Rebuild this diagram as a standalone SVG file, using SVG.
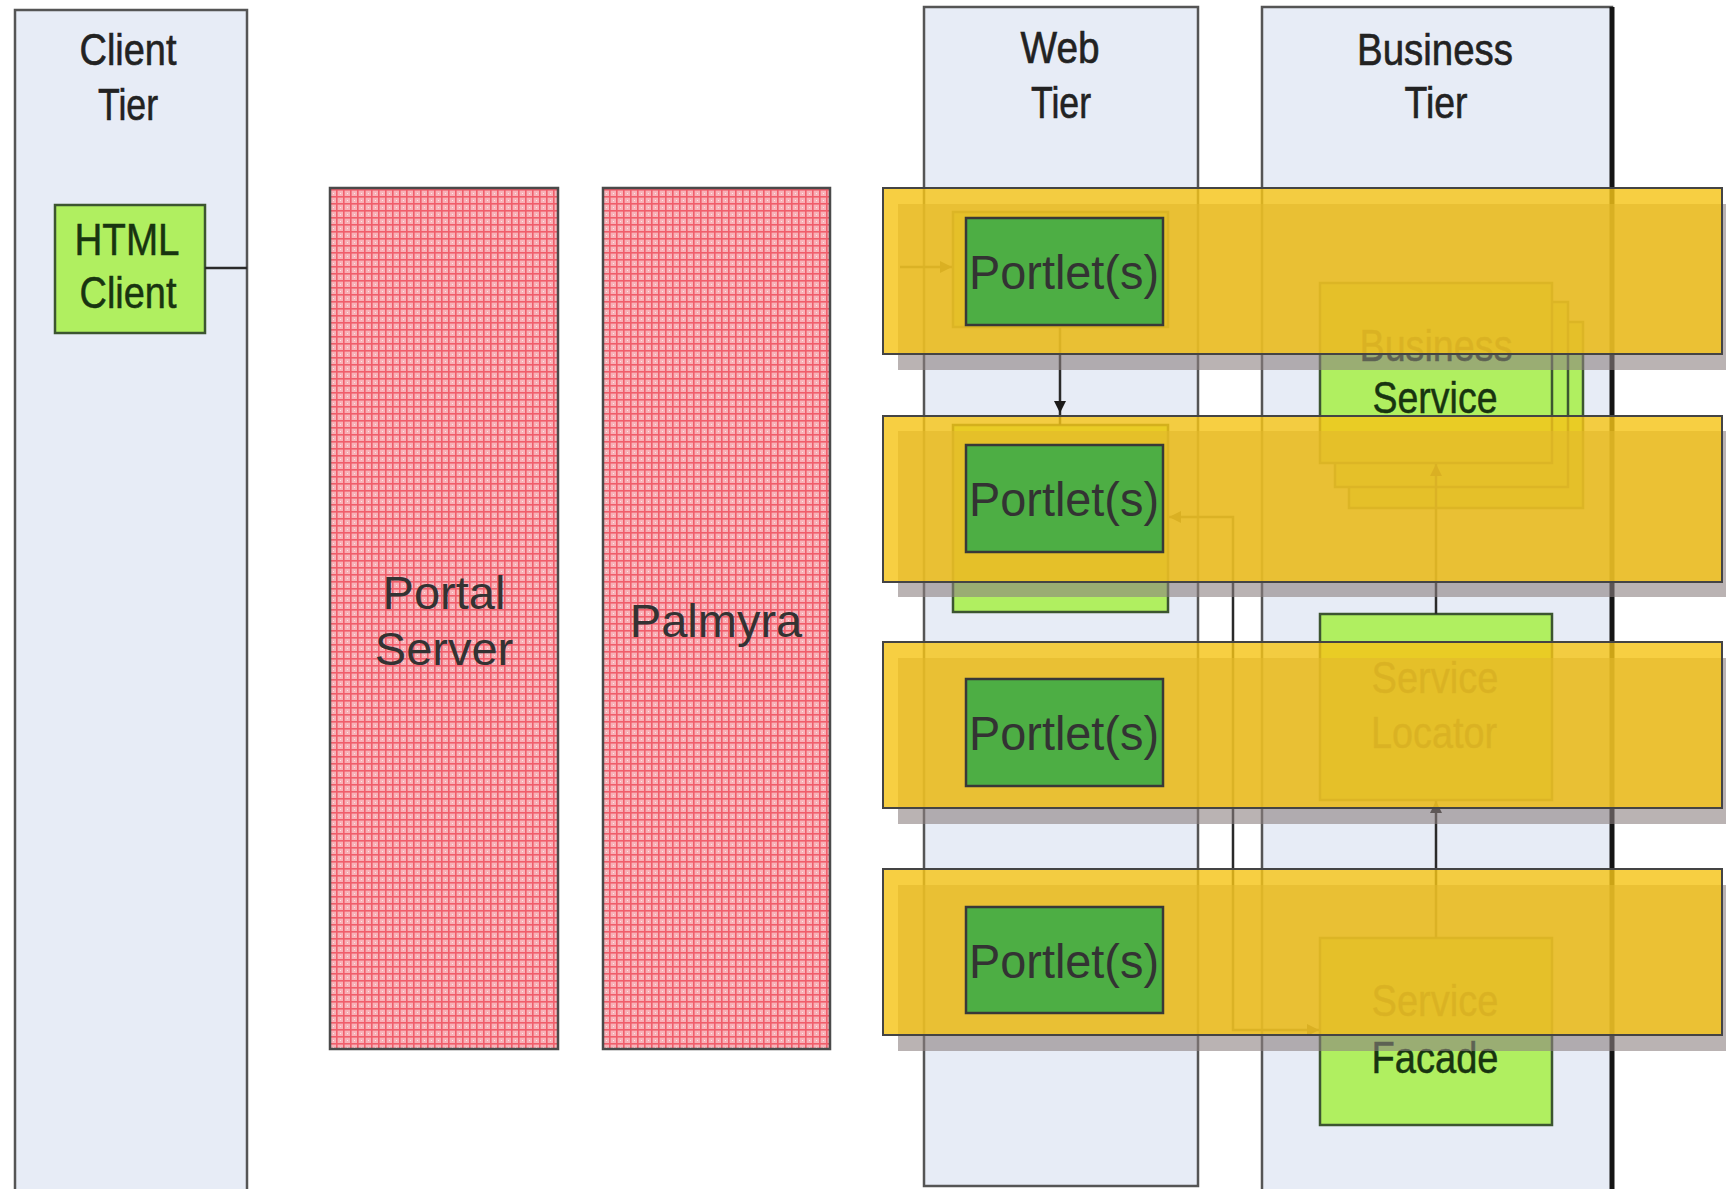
<svg xmlns="http://www.w3.org/2000/svg" width="1726" height="1189" viewBox="0 0 1726 1189">
<defs>
<pattern id="redgrid" width="7" height="7" patternUnits="userSpaceOnUse">
<rect width="7" height="7" fill="#F8B2B8"/>
<rect x="0" y="0" width="7" height="1.6" fill="#F05E6B"/>
<rect x="0" y="0" width="1.6" height="7" fill="#F05E6B"/>
<rect x="4" y="4" width="1" height="1" fill="#FFE6E8"/>
</pattern>
<marker id="arr" viewBox="0 0 10 10" refX="10" refY="5" markerWidth="12" markerHeight="12" markerUnits="userSpaceOnUse" orient="auto-start-reverse">
<path d="M0,0 L10,5 L0,10 Z" fill="#1a1a1a"/>
</marker>
<style>
.tier{fill:#E7ECF6;stroke:#555;stroke-width:2.5}
.ttl{font-family:"Liberation Sans",Arial,sans-serif;font-size:44px;fill:#222;stroke:#222;stroke-width:0.6;text-anchor:middle}
.lime{fill:#B0EF60;stroke:#3C5530;stroke-width:2.5}
.lbl{font-family:"Liberation Sans",Arial,sans-serif;font-size:44px;fill:#183410;stroke:#183410;stroke-width:0.5;text-anchor:middle}
.red{fill:url(#redgrid);stroke:#4a4a4a;stroke-width:2.5}
.big{font-family:"Liberation Sans",Arial,sans-serif;font-size:47px;fill:#333;text-anchor:middle}
.shadow{fill:#8C8080;opacity:0.6}
.band{fill:#F5C518;fill-opacity:0.82;stroke:#444;stroke-width:2}
.portlet{fill:#4DAE44;stroke:#383838;stroke-width:2.5}
.ptxt{font-family:"Liberation Sans",Arial,sans-serif;font-size:49px;fill:#333;text-anchor:middle}
.conn{fill:none;stroke:#2a2a2a;stroke-width:2.5}
</style>
</defs>
<rect width="1726" height="1189" fill="#FFFFFF"/>

<g id="client-tier">
<rect class="tier" x="15" y="10" width="232" height="1190"/>
<text class="ttl" x="128" y="65" textLength="97" lengthAdjust="spacingAndGlyphs">Client</text>
<text class="ttl" x="128" y="120" textLength="60" lengthAdjust="spacingAndGlyphs">Tier</text>
</g>
<g id="web-tier">
<rect class="tier" x="924" y="7" width="274" height="1179"/>
<text class="ttl" x="1060" y="63" textLength="79" lengthAdjust="spacingAndGlyphs">Web</text>
<text class="ttl" x="1061" y="118" textLength="60" lengthAdjust="spacingAndGlyphs">Tier</text>
</g>
<g id="business-tier">
<rect class="tier" x="1262" y="7" width="350" height="1195"/>
<line x1="1612" y1="7" x2="1612" y2="1189" stroke="#151515" stroke-width="5"/>
<text class="ttl" x="1435" y="65" textLength="156" lengthAdjust="spacingAndGlyphs">Business</text>
<text class="ttl" x="1436" y="118" textLength="63" lengthAdjust="spacingAndGlyphs">Tier</text>
</g>

<g id="html-client">
<rect class="lime" x="55" y="205" width="150" height="128"/>
<text class="lbl" x="127" y="255" font-size="38" textLength="105" lengthAdjust="spacingAndGlyphs">HTML</text>
<text class="lbl" x="128" y="308" font-size="38" textLength="97" lengthAdjust="spacingAndGlyphs">Client</text>
</g>

<g id="web-component-1">
<rect class="lime" x="953" y="212" width="215" height="115"/>
</g>
<g id="web-component-2">
<rect class="lime" x="953" y="425" width="215" height="187"/>
</g>
<g id="business-service">
<rect class="lime" x="1349" y="322" width="234" height="186"/>
<rect class="lime" x="1335" y="302" width="233" height="185"/>
<rect class="lime" x="1320" y="283" width="232" height="180"/>
<text class="lbl" x="1436" y="361" textLength="153" lengthAdjust="spacingAndGlyphs">Business</text>
<text class="lbl" x="1435" y="413" textLength="125" lengthAdjust="spacingAndGlyphs">Service</text>
</g>
<g id="service-locator">
<rect class="lime" x="1320" y="614" width="232" height="186"/>
<text class="lbl" x="1435" y="693" textLength="127" lengthAdjust="spacingAndGlyphs">Service</text>
<text class="lbl" x="1434" y="748" textLength="126" lengthAdjust="spacingAndGlyphs">Locator</text>
</g>
<g id="service-facade">
<rect class="lime" x="1320" y="938" width="232" height="187"/>
<text class="lbl" x="1435" y="1016" textLength="127" lengthAdjust="spacingAndGlyphs">Service</text>
<text class="lbl" x="1435" y="1073" textLength="127" lengthAdjust="spacingAndGlyphs">Facade</text>
</g>

<g id="connectors">
<line class="conn" x1="205" y1="268" x2="247" y2="268"/>
<line class="conn" x1="900" y1="267" x2="952" y2="267" marker-end="url(#arr)"/>
<line class="conn" x1="1060" y1="327" x2="1060" y2="413" marker-end="url(#arr)"/>
<line class="conn" x1="1060" y1="413" x2="1060" y2="425"/>
<path class="conn" d="M1169,517 H1233 V1030 H1319" marker-start="url(#arr)" marker-end="url(#arr)"/>
<line class="conn" x1="1436" y1="614" x2="1436" y2="464" marker-end="url(#arr)"/>
<line class="conn" x1="1436" y1="938" x2="1436" y2="801" marker-end="url(#arr)"/>
</g>

<g id="overlay-bands">
<rect class="shadow" x="898" y="204" width="840" height="166"/>
<rect class="shadow" x="898" y="431" width="840" height="166"/>
<rect class="shadow" x="898" y="658" width="840" height="166"/>
<rect class="shadow" x="898" y="885" width="840" height="166"/>
<rect class="band" x="883" y="188" width="839" height="166"/>
<rect class="band" x="883" y="416" width="839" height="166"/>
<rect class="band" x="883" y="642" width="839" height="166"/>
<rect class="band" x="883" y="869" width="839" height="166"/>
</g>

<g id="portlet-1">
<rect class="portlet" x="966" y="218" width="197" height="107"/>
<text class="ptxt" x="1064" y="289" textLength="190" lengthAdjust="spacingAndGlyphs">Portlet(s)</text>
</g>
<g id="portlet-2">
<rect class="portlet" x="966" y="445" width="197" height="107"/>
<text class="ptxt" x="1064" y="516" textLength="190" lengthAdjust="spacingAndGlyphs">Portlet(s)</text>
</g>
<g id="portlet-3">
<rect class="portlet" x="966" y="679" width="197" height="107"/>
<text class="ptxt" x="1064" y="750" textLength="190" lengthAdjust="spacingAndGlyphs">Portlet(s)</text>
</g>
<g id="portlet-4">
<rect class="portlet" x="966" y="907" width="197" height="106"/>
<text class="ptxt" x="1064" y="978" textLength="190" lengthAdjust="spacingAndGlyphs">Portlet(s)</text>
</g>

<g id="portal-server">
<rect class="red" x="330" y="188" width="228" height="861"/>
<text class="big" x="444" y="609">Portal</text>
<text class="big" x="444" y="665">Server</text>
</g>
<g id="palmyra">
<rect class="red" x="603" y="188" width="227" height="861"/>
<text class="big" x="716" y="637">Palmyra</text>
</g>
</svg>
